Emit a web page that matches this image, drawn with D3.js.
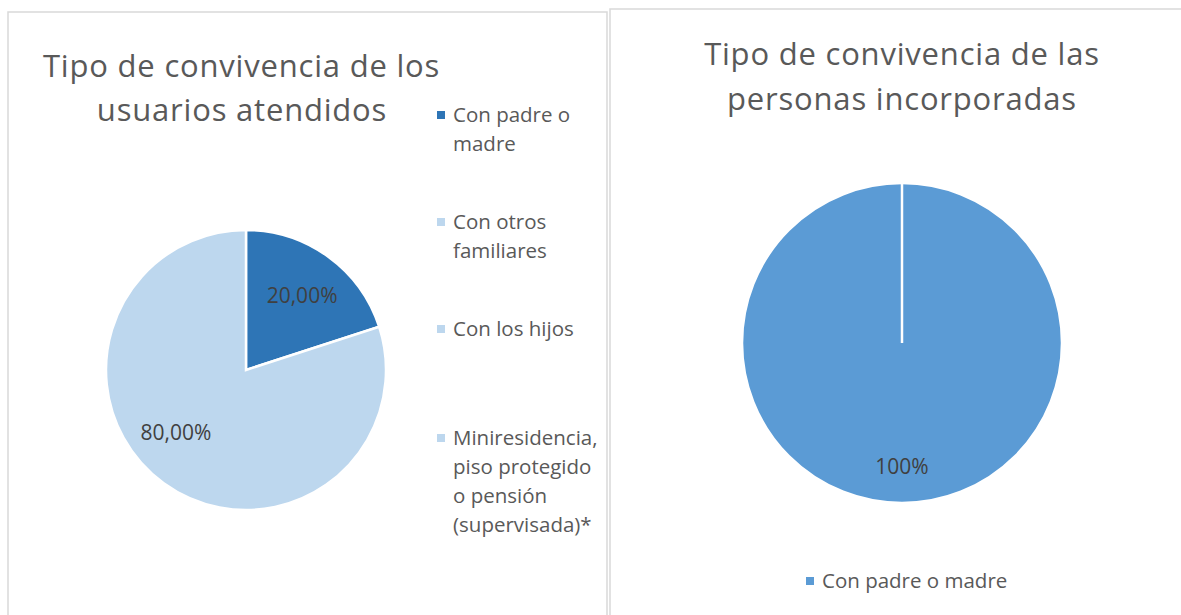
<!DOCTYPE html>
<html>
<head>
<meta charset="utf-8">
<script src="https://cdn.jsdelivr.net/npm/d3@7"></script>
<style>
  body { margin: 0; background: #fff; }
  svg text { font-family: "Open Sans", sans-serif; }
</style>
</head>
<body>
<svg id="chart" width="1181" height="615"></svg>
<script>

// left chart data
var leftCategories = ['Con padre o madre', 'Con otros familiares', 'Con los hijos', 'Miniresidencia, piso protegido o pensión (supervisada)*'];
var leftLegendLines = [['Con padre o', 'madre'], ['Con otros', 'familiares'], ['Con los hijos'], ['Miniresidencia,', 'piso protegido', 'o pensión', '(supervisada)*']];
var leftValues = [20, 0, 0, 80];
var leftLabels = ['20,00%', '', '', '80,00%'];
var leftColors = ['#2E75B6', '#BDD7EE', '#BDD7EE', '#BDD7EE'];
var leftTitle = ['Tipo de convivencia de los', 'usuarios atendidos'];

// right chart data
var rightCategories = ['Con padre o madre'];
var rightValues = [100];
var rightLabels = ['100%'];
var rightColors = ['#5B9BD5'];
var rightTitle = ['Tipo de convivencia de las', 'personas incorporadas'];

var svg = d3.select('#chart');

// panel borders
svg.append('rect')
  .attr('x', 8).attr('y', 12).attr('width', 599).attr('height', 620)
  .attr('fill', 'none').attr('stroke', '#D9D9D9').attr('stroke-width', 1.5);
svg.append('rect')
  .attr('x', 610).attr('y', 9).attr('width', 600).attr('height', 620)
  .attr('fill', 'none').attr('stroke', '#D9D9D9').attr('stroke-width', 1.5);

var pie = d3.pie().sort(null).value(function(d) { return d; });

function drawPie( g, values, colors, labels, radius, labelRadius, labelNudge ) {
  var arcs = pie( values );
  var arc = d3.arc().innerRadius(0).outerRadius(radius);
  var labelArc = d3.arc().innerRadius(labelRadius).outerRadius(labelRadius);
  var shown = arcs.filter(function(d) { return d.data > 0; });

  g.selectAll('path')
    .data( shown )
    .enter()
    .append('path')
    .attr('d', arc)
    .attr('fill', function(d) { return colors[d.index]; })
    .attr('stroke', '#fff')
    .attr('stroke-width', 2.5);

  // a full slice still shows its edge as a white radius
  g.selectAll('line.edge')
    .data( shown.filter(function(d) { return d.endAngle - d.startAngle >= 2 * Math.PI - 1e-6; }) )
    .enter()
    .append('line')
    .classed('edge', true)
    .attr('x1', 0).attr('y1', 0)
    .attr('x2', function(d) { return radius * Math.sin(d.startAngle); })
    .attr('y2', function(d) { return -radius * Math.cos(d.startAngle); })
    .attr('stroke', '#fff')
    .attr('stroke-width', 2.5);

  g.selectAll('text.lbl')
    .data( arcs.filter(function(d) { return labels[d.index] !== ''; }) )
    .enter()
    .append('text')
    .classed('lbl', true)
    .attr('transform', function(d) {
      var p = (d.endAngle - d.startAngle >= 2 * Math.PI - 1e-6) ? [0, labelRadius] : labelArc.centroid(d);
      var n = labelNudge[d.index];
      return 'translate(' + (p[0] + n[0]) + ',' + (p[1] + n[1]) + ')';
    })
    .attr('text-anchor', 'middle')
    .attr('dy', '0.35em')
    .attr('font-size', 21)
    .attr('fill', '#404040')
    .text(function(d) { return labels[d.index]; });
}

// left title
svg.append('text')
  .attr('font-size', 31).attr('fill', '#595959')
  .attr('letter-spacing', 0.8)
  .selectAll('tspan')
  .data( leftTitle )
  .enter()
  .append('tspan')
  .attr('x', function(d, i) { return i === 0 ? 43 : 242; })
  .attr('text-anchor', function(d, i) { return i === 0 ? 'start' : 'middle'; })
  .attr('y', function(d, i) { return 77 + i * 44; })
  .text(function(d) { return d; });

var leftPie = svg.append('g').attr('transform', 'translate(246,370)');
drawPie( leftPie, leftValues, leftColors, leftLabels, 140, 92, [[2, 0], [0, 0], [0, 0], [-16, -12]] );

// left legend
var legendTops = [115, 222, 329, 438];
var leftLegend = svg.append('g');
leftCategories.forEach(function(c, i) {
  leftLegend.append('rect')
    .attr('x', 437).attr('y', legendTops[i] - 4)
    .attr('width', 8).attr('height', 8)
    .attr('fill', leftColors[i]);
  leftLegend.append('text')
    .attr('font-size', 20.5).attr('fill', '#595959')
    .selectAll('tspan')
    .data( leftLegendLines[i] )
    .enter()
    .append('tspan')
    .attr('x', 453)
    .attr('y', function(d, j) { return legendTops[i] + 7 + j * 29; })
    .text(function(d) { return d; });
});

// right title
svg.append('text')
  .attr('font-size', 31).attr('fill', '#595959')
  .attr('letter-spacing', 0.8)
  .attr('text-anchor', 'middle')
  .selectAll('tspan')
  .data( rightTitle )
  .enter()
  .append('tspan')
  .attr('x', 902)
  .attr('y', function(d, i) { return 65 + i * 45; })
  .text(function(d) { return d; });

var rightPie = svg.append('g').attr('transform', 'translate(902,343)');
drawPie( rightPie, rightValues, rightColors, rightLabels, 160, 124, [[0, 0]] );

// right legend
var rightLegend = svg.append('g');
rightLegend.append('rect')
  .attr('x', 806).attr('y', 577).attr('width', 8).attr('height', 8)
  .attr('fill', rightColors[0]);
rightLegend.append('text')
  .attr('x', 822).attr('y', 588)
  .attr('font-size', 20.5).attr('fill', '#595959')
  .text( rightCategories[0] );

</script>
</body>
</html>
